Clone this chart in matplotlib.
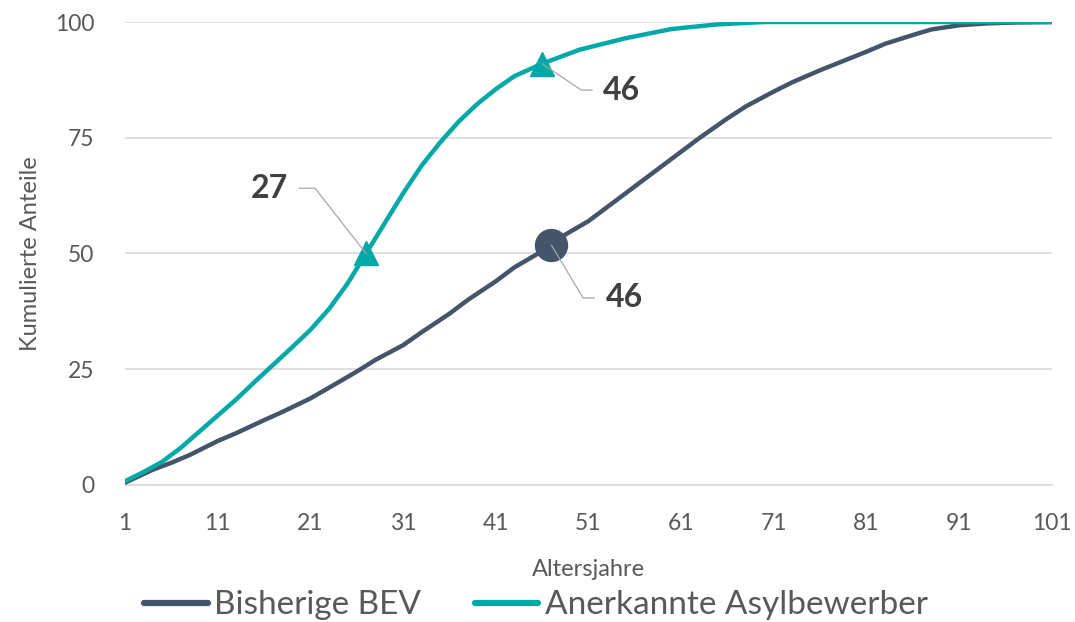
import matplotlib
matplotlib.use("Agg")
import matplotlib.pyplot as plt

# cumulative shares by age
bev_age = [1, 4, 6, 8, 11, 13, 16, 18, 21, 23, 26, 28, 31, 33, 36, 38, 41, 43, 46, 48,
           51, 53, 56, 58, 61, 63, 66, 68, 71, 73, 76, 78, 81, 83, 86, 88, 91, 94, 97, 101]
bev_share = [0.5, 3.3, 4.8, 6.5, 9.5, 11.2, 14, 15.8, 18.7, 21, 24.5, 27, 30.2, 33, 37,
             40, 44, 47, 50.5, 53.5, 57, 60, 64.5, 67.5, 72, 75, 79.2, 81.8, 85, 87,
             89.6, 91.2, 93.6, 95.3, 97.2, 98.4, 99.3, 99.7, 99.9, 100]

asyl_age = [1, 3, 5, 7, 9, 11, 13, 15, 17, 19, 21, 23, 25, 27, 29, 31, 33, 35, 37, 39,
            41, 43, 46, 50, 55, 60, 65, 70, 101]
asyl_share = [0.8, 2.8, 5, 8, 11.5, 15, 18.5, 22.3, 26, 29.7, 33.5, 38, 43.5, 50, 56.5, 63,
              69, 74, 78.5, 82.3, 85.5, 88.3, 91, 94, 96.5, 98.5, 99.5, 100, 100]

# median markers
asyl_med_x = [27, 46]
asyl_med_y = [50, 91]
asyl_med_lbl = ["27", "46"]
bev_med_x = [47]
bev_med_y = [51.8]
bev_med_lbl = ["46"]

xticks = list(range(1, 102, 10))
yticks = [0, 25, 50, 75, 100]

DARK = "#44546A"
TEAL = "#00A9A8"
GREY = "#595959"

plt.rcParams["font.family"] = ["Lato", "DejaVu Sans"]

fig = plt.figure(figsize=(10.75, 6.22), dpi=100)
ax = fig.add_axes([0.1163, 0.2203, 0.8623, 0.7443])

ax.plot(bev_age, bev_share, color=DARK, lw=3.2, solid_capstyle="round",
        solid_joinstyle="round", label="Bisherige BEV", zorder=3)
ax.plot(asyl_age, asyl_share, color=TEAL, lw=3.2, solid_capstyle="round",
        solid_joinstyle="round", label="Anerkannte Asylbewerber", zorder=3)

ax.plot(asyl_med_x, asyl_med_y, ls="none", marker="^", ms=17, color=TEAL, zorder=4)
ax.plot(bev_med_x, bev_med_y, ls="none", marker="o", ms=23, color=DARK, zorder=4)

lead = dict(arrowstyle="-", color="#A6A6A6", lw=0.9, shrinkA=6, shrinkB=0)
txt = dict(fontsize=23, fontweight="bold", color="#404040", va="center")

# 27 - label upper left
ax.annotate(asyl_med_lbl[0], xy=(asyl_med_x[0], asyl_med_y[0]), xytext=(-56, 47),
            textcoords="offset points", ha="right", zorder=5,
            arrowprops=dict(lead, relpos=(1, 0.5),
                            connectionstyle="angle,angleA=0,angleB=128,rad=0"), **txt)
# 46 - teal label right
ax.annotate(asyl_med_lbl[1], xy=(asyl_med_x[1], asyl_med_y[1]), xytext=(44, -19),
            textcoords="offset points", ha="left", zorder=5,
            arrowprops=dict(lead, relpos=(0, 0.5),
                            connectionstyle="angle,angleA=0,angleB=-34,rad=0"), **txt)
# 46 - dark label lower right
ax.annotate(bev_med_lbl[0], xy=(bev_med_x[0], bev_med_y[0]), xytext=(39, -38),
            textcoords="offset points", ha="left", zorder=5,
            arrowprops=dict(lead, relpos=(0, 0.5),
                            connectionstyle="angle,angleA=0,angleB=-59,rad=0"), **txt)

ax.set_xlim(1, 101)
ax.set_ylim(0, 100)
ax.set_xticks(xticks)
ax.set_yticks(yticks)
ax.tick_params(axis="both", length=0, labelsize=16.5, labelcolor=GREY)
ax.tick_params(axis="x", pad=20)
ax.tick_params(axis="y", pad=22)
ax.grid(axis="y", color="#D9D9D9", lw=1.2)
ax.set_axisbelow(True)
for s in ["top", "right", "left"]:
    ax.spines[s].set_visible(False)
ax.spines["bottom"].set_color("#D9D9D9")
ax.spines["bottom"].set_linewidth(1.2)

ax.set_xlabel("Altersjahre", fontsize=17, color=GREY, labelpad=18)
ax.set_ylabel("Kumulierte Anteile", fontsize=17, color=GREY, labelpad=10)

fig.legend(loc="center", bbox_to_anchor=(0.4986, 0.027), ncol=2, frameon=False,
           fontsize=24, handlelength=1.9, handletextpad=0.2, columnspacing=1.6,
           borderpad=0, labelcolor=GREY)
leg = fig.legends[0]
for h in leg.get_lines():
    h.set_linewidth(4.5)

fig.savefig("out.png", dpi=100)
